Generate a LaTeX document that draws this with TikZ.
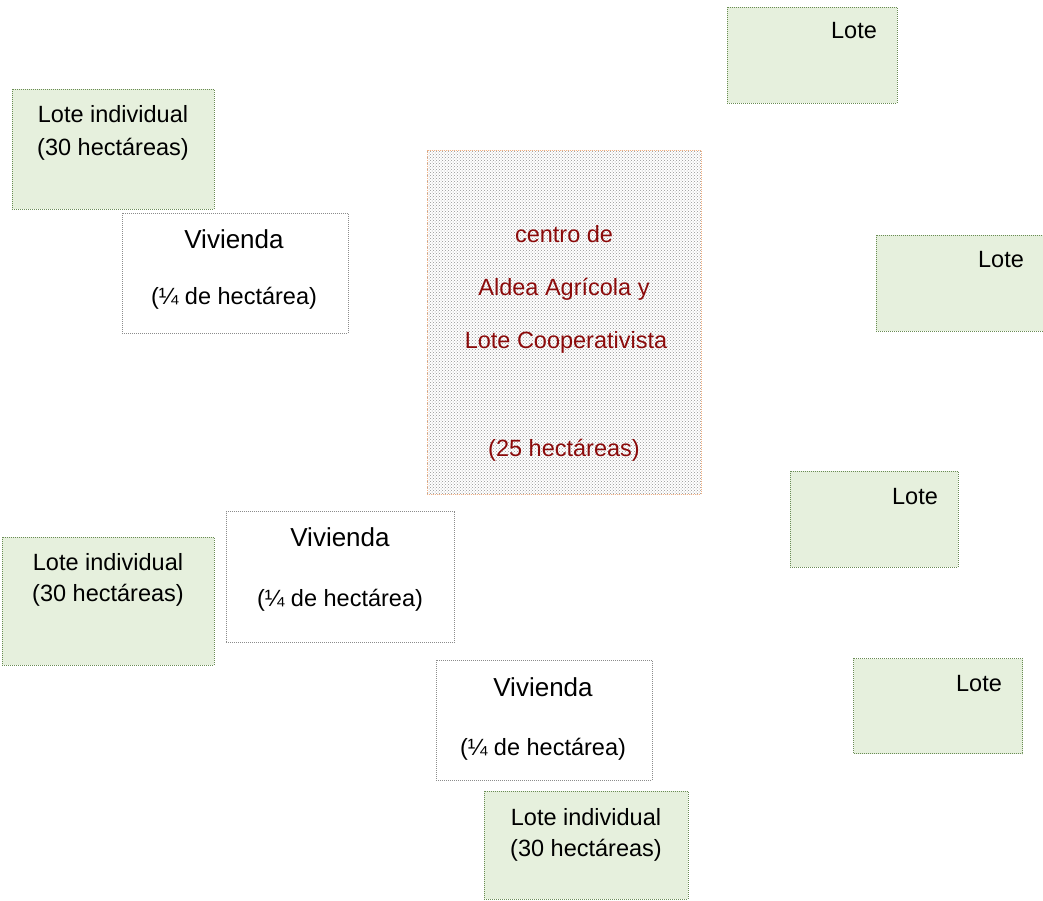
\documentclass[tikz,border=0pt]{standalone}
\usepackage{fontspec}
\setmainfont{Liberation Sans}
\usetikzlibrary{patterns}
\definecolor{LoteFill}{HTML}{E6F0DD}
\definecolor{LoteLine}{HTML}{6A8C55}
\definecolor{CasaLine}{HTML}{8C8C8C}
\definecolor{CentroLine}{HTML}{F4B183}
\definecolor{CentroText}{HTML}{8B0A0A}

\tikzset{
  lotebox/.style={draw=LoteLine, fill=LoteFill, line width=0.9pt, dash pattern=on 1pt off 1pt, rectangle, inner sep=0pt},
  casabox/.style={draw=CasaLine, fill=white, line width=0.9pt, dash pattern=on 1pt off 1pt, rectangle, inner sep=0pt},
  centrobox/.style={draw=CentroLine, fill=white, pattern=crosshatch dots, pattern color=gray!85, line width=0.9pt, dash pattern=on 1pt off 1pt, rectangle, inner sep=0pt},
  txt/.style={anchor=base, inner sep=0pt, font=\fontsize{23.5}{28}\selectfont},
  bigtxt/.style={anchor=base, inner sep=0pt, font=\fontsize{26}{30}\selectfont},
}

\begin{document}
\begin{tikzpicture}[x=1pt, y=-1pt]
    \useasboundingbox (0,0) rectangle (1043,900);

    % Centro de la aldea
    \node[centrobox, minimum width=274, minimum height=344] (centro) at (564, 322) {};
    \node[txt, text=CentroText] (centro1) at (564, 242) {centro de};
    \node[txt, text=CentroText] (centro2) at (564, 295) {Aldea Agrícola y};
    \node[txt, text=CentroText] (centro3) at (566, 348) {Lote Cooperativista};
    \node[txt, text=CentroText] (centro4) at (564, 456) {(25 hectáreas)};

    % Lotes (derecha)
    \node[lotebox, minimum width=170, minimum height=96] (loteA) at (812, 55) {};
    \node[txt] (loteAt) at (854, 38) {Lote};
    \node[lotebox, minimum width=168, minimum height=96] (loteB) at (960, 283) {};
    \node[txt] (loteBt) at (1001, 267) {Lote};
    \node[lotebox, minimum width=168, minimum height=96] (loteC) at (874, 519) {};
    \node[txt] (loteCt) at (915, 504) {Lote};
    \node[lotebox, minimum width=169, minimum height=95] (loteD) at (938, 706) {};
    \node[txt] (loteDt) at (979, 691) {Lote};

    % Lotes individuales
    \node[lotebox, minimum width=202, minimum height=120] (indiv1) at (113, 149) {};
    \node[txt] (indiv1a) at (113, 122) {Lote individual};
    \node[txt] (indiv1b) at (113, 155) {(30 hectáreas)};
    \node[lotebox, minimum width=212, minimum height=128] (indiv2) at (108, 601) {};
    \node[txt] (indiv2a) at (108, 570) {Lote individual};
    \node[txt] (indiv2b) at (108, 601) {(30 hectáreas)};
    \node[lotebox, minimum width=204, minimum height=108] (indiv3) at (586, 845) {};
    \node[txt] (indiv3a) at (586, 825) {Lote individual};
    \node[txt] (indiv3b) at (586, 856) {(30 hectáreas)};

    % Viviendas
    \node[casabox, minimum width=226, minimum height=120] (casa1) at (235, 273) {};
    \node[bigtxt] (casa1a) at (234, 248) {Vivienda};
    \node[txt] (casa1b) at (234, 304) {(¼ de hectárea)};
    \node[casabox, minimum width=228, minimum height=131] (casa2) at (340, 577) {};
    \node[bigtxt] (casa2a) at (340, 546) {Vivienda};
    \node[txt] (casa2b) at (340, 606) {(¼ de hectárea)};
    \node[casabox, minimum width=216, minimum height=120] (casa3) at (544, 720) {};
    \node[bigtxt] (casa3a) at (543, 696) {Vivienda};
    \node[txt] (casa3b) at (543, 755) {(¼ de hectárea)};
\end{tikzpicture}
\end{document}
